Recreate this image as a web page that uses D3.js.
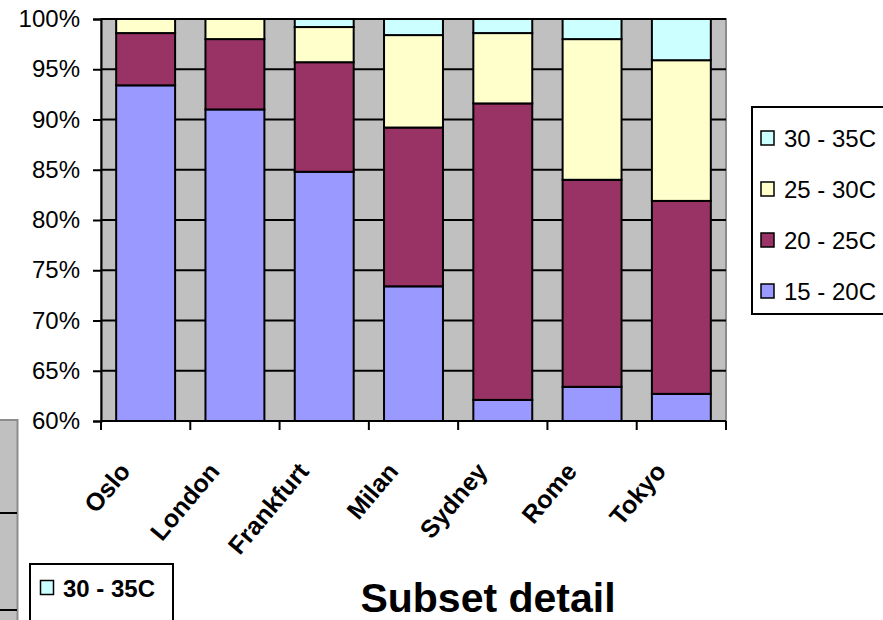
<!DOCTYPE html>
<html>
<head>
<meta charset="utf-8">
<script src="https://cdn.jsdelivr.net/npm/d3@7"></script>
<style>
  html, body { margin: 0; padding: 0; background: #fff; }
  svg { display: block; font-family: "Liberation Sans", Arial, sans-serif; }
</style>
</head>
<body>
<svg id="chart" width="883" height="620"></svg>
<script>
// Cities shown on the category axis
const cities = ["Oslo", "London", "Frankfurt", "Milan", "Sydney", "Rome", "Tokyo"];

// Temperature bands (bottom of the stack first)
const bands = ["15 - 20C", "20 - 25C", "25 - 30C", "30 - 35C"];

// Share of days (%) in each band, per city
const band15to20 = [93.4, 91.0, 84.8, 73.4, 62.1, 63.4, 62.7];
const band20to25 = [5.2, 7.0, 10.9, 15.8, 29.5, 20.6, 19.2];
const band25to30 = [1.4, 2.0, 3.5, 9.2, 7.0, 14.0, 14.0];
const band30to35 = [0.0, 0.0, 0.8, 1.6, 1.4, 2.0, 4.1];

// Value-axis ticks
const yTicks = [0.60, 0.65, 0.70, 0.75, 0.80, 0.85, 0.90, 0.95, 1.00];

const colors = {
  "15 - 20C": "#9999FF",
  "20 - 25C": "#993366",
  "25 - 30C": "#FFFFCC",
  "30 - 35C": "#CCFFFF"
};

const seriesValues = [band15to20, band20to25, band25to30, band30to35];
const rows = cities.map((c, i) => {
  const row = { city: c };
  bands.forEach((b, j) => { row[b] = seriesValues[j][i] / 100; });
  return row;
});

const svg = d3.select("#chart");

const plot = { left: 101, right: 726, top: 19, bottom: 421 };

const x = d3.scaleBand()
  .domain(cities)
  .range([plot.left, plot.right])
  .paddingInner(0.34)
  .paddingOuter(0.17);

const y = d3.scaleLinear()
  .domain([0.6, 1.0])
  .range([plot.bottom, plot.top]);

// ---- second chart peeking in at bottom-left ----
const inset = svg.append("g");
inset.append("rect")
  .attr("x", -4).attr("y", 420).attr("width", 21.5).attr("height", 210)
  .attr("fill", "#C0C0C0").attr("stroke", "#8c8c8c").attr("stroke-width", 2);
[513, 610].forEach(v => {
  inset.append("line")
    .attr("x1", 0).attr("x2", 17).attr("y1", v).attr("y2", v)
    .attr("stroke", "#000").attr("stroke-width", 2);
});
const insetLegend = inset.append("g");
insetLegend.append("rect")
  .attr("x", 30).attr("y", 564).attr("width", 143).attr("height", 70)
  .attr("fill", "#fff").attr("stroke", "#000").attr("stroke-width", 2);
insetLegend.append("rect")
  .attr("x", 40.5).attr("y", 580.5).attr("width", 13).attr("height", 14)
  .attr("fill", colors[bands[3]]).attr("stroke", "#000").attr("stroke-width", 1.5);
insetLegend.append("text")
  .attr("x", 63).attr("y", 596.5)
  .attr("font-size", 24).attr("font-weight", "bold")
  .text(bands[3]);

// ---- plot area ----
svg.append("rect")
  .attr("x", plot.left).attr("y", plot.top)
  .attr("width", plot.right - plot.left).attr("height", plot.bottom - plot.top)
  .attr("fill", "#C0C0C0").attr("stroke", "#8c8c8c").attr("stroke-width", 2);

// horizontal gridlines
svg.append("g")
  .selectAll("line")
  .data(yTicks.filter(t => t > 0.6))
  .join("line")
  .attr("x1", plot.left).attr("x2", plot.right)
  .attr("y1", d => y(d)).attr("y2", d => y(d))
  .attr("stroke", "#000").attr("stroke-width", 2);

// stacked bars
const stacked = d3.stack().keys(bands)(rows);
svg.append("g")
  .selectAll("g")
  .data(stacked)
  .join("g")
  .attr("fill", d => colors[d.key])
  .selectAll("rect")
  .data(d => d.filter(p => p[1] - p[0] > 0))
  .join("rect")
  .attr("x", d => x(d.data.city))
  .attr("width", x.bandwidth())
  .attr("y", d => y(Math.min(1, d[1])))
  .attr("height", d => y(Math.max(0.6, d[0])) - y(Math.min(1, d[1])))
  .attr("stroke", "#000")
  .attr("stroke-width", 2);

// value axis
const yAxis = svg.append("g")
  .attr("transform", `translate(${plot.left},0)`)
  .call(d3.axisLeft(y)
    .tickValues(yTicks)
    .tickFormat(d3.format(".0%"))
    .tickSize(8)
    .tickPadding(13));
yAxis.select(".domain").attr("stroke", "#000").attr("stroke-width", 2);
yAxis.selectAll(".tick line").attr("stroke", "#000").attr("stroke-width", 2);
yAxis.selectAll(".tick text")
  .attr("font-size", 24)
  .attr("font-family", "Liberation Sans, Arial, sans-serif")
  .attr("fill", "#000");

// category axis: tick marks sit on the band boundaries
const xAxis = svg.append("g");
xAxis.append("line")
  .attr("x1", plot.left).attr("x2", plot.right)
  .attr("y1", plot.bottom).attr("y2", plot.bottom)
  .attr("stroke", "#000").attr("stroke-width", 2);
const boundaries = cities.map(c => x(c) - x.step() * x.paddingInner() / 2)
  .concat([plot.right]);
xAxis.selectAll("line.tick")
  .data(boundaries)
  .join("line")
  .attr("class", "tick")
  .attr("x1", d => d).attr("x2", d => d)
  .attr("y1", plot.bottom).attr("y2", plot.bottom + 9)
  .attr("stroke", "#000").attr("stroke-width", 2);
xAxis.selectAll("text")
  .data(cities)
  .join("text")
  .attr("transform", d => `translate(${x(d) + x.bandwidth() / 2 - 14},${plot.bottom + 51}) rotate(-50)`)
  .attr("text-anchor", "end")
  .attr("font-size", 25)
  .attr("font-weight", "bold")
  .text(d => d);

// legend (top entry is the top of the stack)
const legend = svg.append("g");
legend.append("rect")
  .attr("x", 752).attr("y", 107).attr("width", 150).attr("height", 207)
  .attr("fill", "#fff").attr("stroke", "#000").attr("stroke-width", 2);
const legendItems = legend.selectAll("g.item")
  .data(bands.slice().reverse())
  .join("g")
  .attr("class", "item")
  .attr("transform", (d, i) => `translate(0,${138 + i * 51})`);
legendItems.append("rect")
  .attr("x", 761).attr("y", -7).attr("width", 13).attr("height", 14)
  .attr("fill", d => colors[d]).attr("stroke", "#000").attr("stroke-width", 1.5);
legendItems.append("text")
  .attr("x", 784).attr("y", 0)
  .attr("dy", "0.36em")
  .attr("font-size", 24)
  .text(d => d);

// title
svg.append("text")
  .attr("x", 488).attr("y", 612)
  .attr("text-anchor", "middle")
  .attr("font-size", 41)
  .attr("font-weight", "bold")
  .text("Subset detail");
</script>
</body>
</html>
